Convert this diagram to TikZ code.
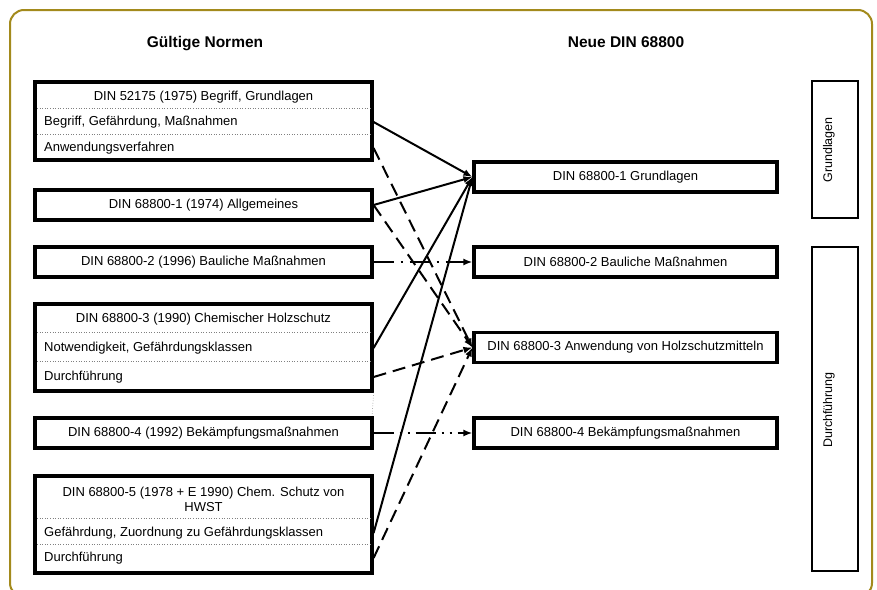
\documentclass[tikz,border=0pt]{standalone}
\usepackage{fontspec}
\setmainfont{Liberation Sans}
\usetikzlibrary{arrows.meta}
\definecolor{framegold}{HTML}{A38A1C}

\begin{document}
\begin{tikzpicture}[x=1pt,y=-1pt,
  txt/.style={font=\fontsize{13}{15}\selectfont, inner sep=0pt},
  norm/.style={txt, draw, line width=3.2pt, minimum width=337pt, minimum height=30pt},
  neu/.style={norm, minimum width=303pt},
  part/.style={draw, line width=1.8pt, minimum width=46pt, inner sep=0pt},
  row/.style={txt, anchor=west},
  sep/.style={gray, dotted, line width=0.6pt},
  link/.style={line width=2pt, -{Latex[length=9pt,width=7pt]}},
  longdash/.style={dash pattern=on 13pt off 7pt},
  dashdotline/.style={dash pattern=on 20pt off 7pt on 2pt off 7pt},
  dashdotdotline/.style={dash pattern=on 20pt off 6pt on 2pt off 6pt on 2pt off 6pt},
  side/.style={font=\fontsize{12.5}{14}\selectfont, inner sep=0pt, rotate=90},
  head/.style={font=\fontsize{15.5}{18}\selectfont\bfseries, anchor=base}]

\useasboundingbox (0,0) rectangle (877,589);
\fill[white] (0,0) rectangle (877,589);
\draw[framegold, line width=2pt, rounded corners=14pt] (10,10) rectangle (872,597);

% headings
\node[head] (hl) at (205,47) {Gültige Normen};
\node[head] (hr) at (626,47) {Neue DIN 68800};

% old standards
\node[norm, minimum height=78pt] (b1) at (203.5,121) {};
\node[txt] (b1t) at (203.5,97) {DIN 52175 (1975) Begriff, Grundlagen};
\node[row] (b1a) at (44,122) {Begriff, Gefährdung, Maßnahmen};
\node[row] (b1b) at (44,148) {Anwendungsverfahren};
\draw[sep] (37,108) -- (370,108);
\draw[sep] (37,134) -- (370,134);

\node[norm] (b2) at (203.5,205) {DIN 68800-1 (1974) Allgemeines};
\node[norm] (b3) at (203.5,262) {DIN 68800-2 (1996) Bauliche Maßnahmen};

\node[norm, minimum height=87pt] (b4) at (203.5,347.5) {};
\node[txt] (b4t) at (203.5,319) {DIN 68800-3 (1990) Chemischer Holzschutz};
\node[row] (b4a) at (44,348) {Notwendigkeit, Gefährdungsklassen};
\node[row] (b4b) at (44,377) {Durchführung};
\draw[sep] (37,332) -- (370,332);
\draw[sep] (37,361) -- (370,361);
\draw[sep] (b4.south east) -- (372,418);

\node[norm] (b5) at (203.5,433) {DIN 68800-4 (1992) Bekämpfungsmaßnahmen};

\node[norm, minimum height=97pt] (b6) at (203.5,524.5) {};
\node[txt, align=center] (b6t) at (203.5,499.5) {DIN 68800-5 (1978 + E 1990) Chem. Schutz von\\HWST};
\node[row] (b6a) at (44,533) {Gefährdung, Zuordnung zu Gefährdungsklassen};
\node[row] (b6b) at (44,558) {Durchführung};
\draw[sep] (37,518) -- (370,518);
\draw[sep] (37,544) -- (370,544);

% new standard
\node[neu] (n1) at (625.5,177) {DIN 68800-1 Grundlagen};
\node[neu] (n2) at (625.5,262) {DIN 68800-2 Bauliche Maßnahmen};
\node[neu] (n3) at (625.5,347.5) {DIN 68800-3 Anwendung von Holzschutzmitteln};
\node[neu] (n4) at (625.5,433) {DIN 68800-4 Bekämpfungsmaßnahmen};

\node[part, minimum height=137pt] (pg) at (835,149.5) {};
\node[side] (pgl) at (829,150) {Grundlagen};
\node[part, minimum height=324pt] (pd) at (835,409) {};
\node[side] (pdl) at (829,410) {Durchführung};

% links
\draw[link] (b1.east |- b1a) -- (n1.west);
\draw[link] (b2.east) -- (n1.west);
\draw[link] (b4.east |- b4a) -- (n1.west);
\draw[link] (b6.east |- b6a) -- (n1.west);

\draw[link, longdash] (b1.east |- b1b) -- (n3.west);
\draw[link, longdash] (b2.east) -- (n3.west);
\draw[link, longdash] (b4.east |- b4b) -- (n3.west);
\draw[link, longdash] (b6.east |- b6b) -- (n3.west);

\draw[link, dashdotline] (b3.east) -- (n2.west);
\draw[link, dashdotdotline] (b5.east) -- (n4.west);

\end{tikzpicture}
\end{document}
